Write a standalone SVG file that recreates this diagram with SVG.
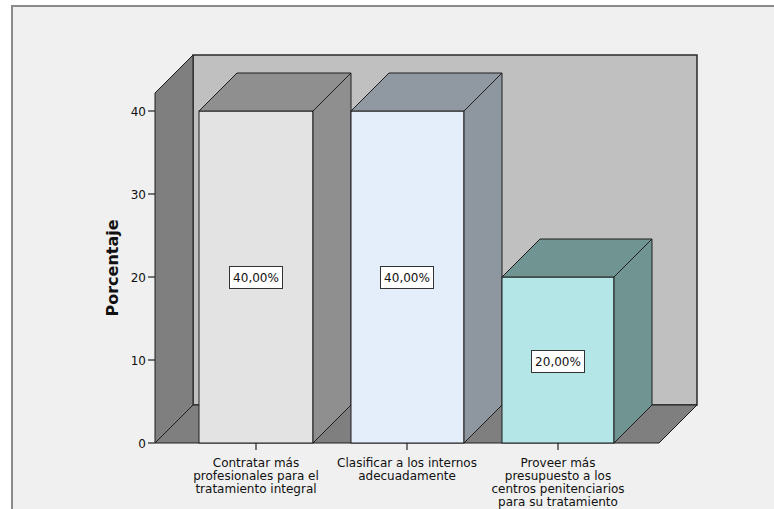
<svg xmlns="http://www.w3.org/2000/svg" width="774" height="509" viewBox="0 0 774 509">
<style>
.edge{stroke:#1e1e1e;stroke-width:1;stroke-linejoin:miter}
.t{font-family:"DejaVu Sans",sans-serif;font-size:12px;fill:#111}
.c{text-anchor:middle}
.r{text-anchor:end}
.box{fill:#fff;stroke:#333;stroke-width:1}
.tick{stroke:#222;stroke-width:1.2}
</style>
<rect x="0" y="0" width="774" height="509" fill="#ffffff"/>
<rect x="12" y="6" width="800" height="600" fill="#f0f0f0" stroke="#8a8a8a" stroke-width="2"/>
<g id="walls">
<rect x="193" y="55" width="504" height="350" fill="#c0c0c0" stroke="#2a2a2a" stroke-width="1.5"/>
<polygon class="edge" points="155,93 193,55 193,405 155,443" fill="#7f7f7f"/>
<polygon class="edge" points="155,443 193,405 697,405 659,443" fill="#7f7f7f"/>
</g>
<g id="axis">
<line class="tick" x1="148" y1="443" x2="155" y2="443"/>
<line class="tick" x1="148" y1="360" x2="155" y2="360"/>
<line class="tick" x1="148" y1="277" x2="155" y2="277"/>
<line class="tick" x1="148" y1="194" x2="155" y2="194"/>
<line class="tick" x1="148" y1="111" x2="155" y2="111"/>
<text class="t r" x="146" y="448">0</text>
<text class="t r" x="146" y="365">10</text>
<text class="t r" x="146" y="282">20</text>
<text class="t r" x="146" y="199">30</text>
<text class="t r" x="146" y="116">40</text>
<text x="118" y="268" transform="rotate(-90 118 268)" text-anchor="middle" style="font-family:'DejaVu Sans',sans-serif;font-size:16px;font-weight:bold;fill:#111">Porcentaje</text>
<line class="tick" x1="256" y1="443" x2="256" y2="450"/>
<line class="tick" x1="407" y1="443" x2="407" y2="450"/>
<line class="tick" x1="558" y1="443" x2="558" y2="450"/>
</g>
<g id="bar1">
<rect class="edge" x="199" y="111" width="114" height="332" fill="#e3e3e3"/>
<polygon class="edge" points="199,111 237,73 351,73 313,111" fill="#8f8f8f"/>
<polygon class="edge" points="313,111 351,73 351,405 313,443" fill="#8f8f8f"/>
<rect class="box" x="229.5" y="266.5" width="53" height="22"/>
<text class="t c" x="256" y="282">40,00%</text>
<text class="t c" x="256" y="467">Contratar más</text>
<text class="t c" x="256" y="480">profesionales para el</text>
<text class="t c" x="256" y="493">tratamiento integral</text>
</g>
<g id="bar2">
<rect class="edge" x="351" y="111" width="113" height="332" fill="#e3eefa"/>
<polygon class="edge" points="351,111 389,73 502,73 464,111" fill="#9098a1"/>
<polygon class="edge" points="464,111 502,73 502,405 464,443" fill="#8e97a0"/>
<rect class="box" x="380.5" y="266.5" width="53" height="22"/>
<text class="t c" x="407" y="282">40,00%</text>
<text class="t c" x="407" y="467">Clasificar a los internos</text>
<text class="t c" x="407" y="480">adecuadamente</text>
</g>
<g id="bar3">
<rect class="edge" x="502" y="277" width="112" height="166" fill="#b4e6e8"/>
<polygon class="edge" points="502,277 540,239 652,239 614,277" fill="#6f9491"/>
<polygon class="edge" points="614,277 652,239 652,405 614,443" fill="#6f9491"/>
<rect class="box" x="531.5" y="350.5" width="53" height="22"/>
<text class="t c" x="558" y="366">20,00%</text>
<text class="t c" x="558" y="467">Proveer más</text>
<text class="t c" x="558" y="480">presupuesto a los</text>
<text class="t c" x="558" y="493">centros penitenciarios</text>
<text class="t c" x="558" y="506">para su tratamiento</text>
</g>
</svg>
